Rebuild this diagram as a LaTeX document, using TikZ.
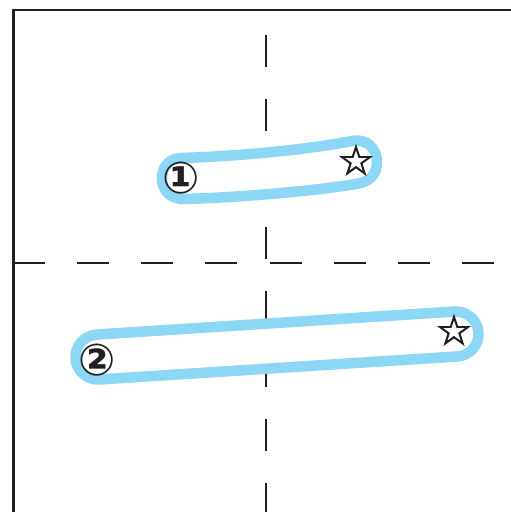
\documentclass[tikz,border=0pt]{standalone}
\usepackage{fontspec}
\newfontfamily\symfont{DejaVu Sans}
\newfontfamily\starfont[FakeBold=2]{DejaVu Sans}
\definecolor{ink}{RGB}{35,31,32}
\definecolor{capblue}{RGB}{139,215,245}
\tikzset{
  frameline/.style={draw=ink, line width=2.6pt},
  dashline/.style={draw=ink, line width=2.6pt},
  capsule/.style={draw=capblue, line width=10.5pt, fill=white, line join=round},
  num label/.style={inner sep=0pt, text=ink, font=\symfont\bfseries\fontsize{44}{44}\selectfont},
  star label/.style={inner sep=0pt, text=ink, font=\starfont\fontsize{41}{41}\selectfont},
}
\begin{document}
\begin{tikzpicture}[x=1pt, y=-1pt]
\useasboundingbox (0,0) rectangle (511,512);
% frame
\draw[frameline] (511,10) -- (13.5,10) -- (13.5,512);
% dashed axes
\draw[dashline, dash pattern=on 32pt off 32.14pt] (13,263) -- (511,263);
\draw[dashline, dash pattern=on 32pt off 32pt] (266,35) -- (266,512);
% capsule 1 (slightly curved)
\draw[capsule] (182,158) .. controls (240,156) and (305,150) .. (352,141)
  .. controls (366,138) and (377,148) .. (377,162)
  .. controls (377,174) and (370,182) .. (356,184)
  .. controls (320,190) and (250,197) .. (185,199)
  .. controls (170,199.5) and (162,190) .. (162,178.5)
  .. controls (162,166) and (170,158) .. (182,158) -- cycle;
% capsule 2 (straight, tilted)
\draw[capsule] (96.56,334.54) -- (454.56,311.54)
  .. controls (466.97,310.74) and (477.66,320.15) .. (478.46,332.56)
  .. controls (479.26,344.97) and (469.85,355.66) .. (457.44,356.46)
  -- (99.44,379.46)
  .. controls (87.03,380.26) and (76.34,370.85) .. (75.54,358.44)
  .. controls (74.74,346.03) and (84.15,335.34) .. (96.56,334.54) -- cycle;
% labels
\node[num label] (one) at (181.5,178) {①};
\node[star label] (star1) at (356,160) {☆};
\node[num label] (two) at (97,360) {②};
\node[star label] (star2) at (454,330) {☆};
\end{tikzpicture}
\end{document}
